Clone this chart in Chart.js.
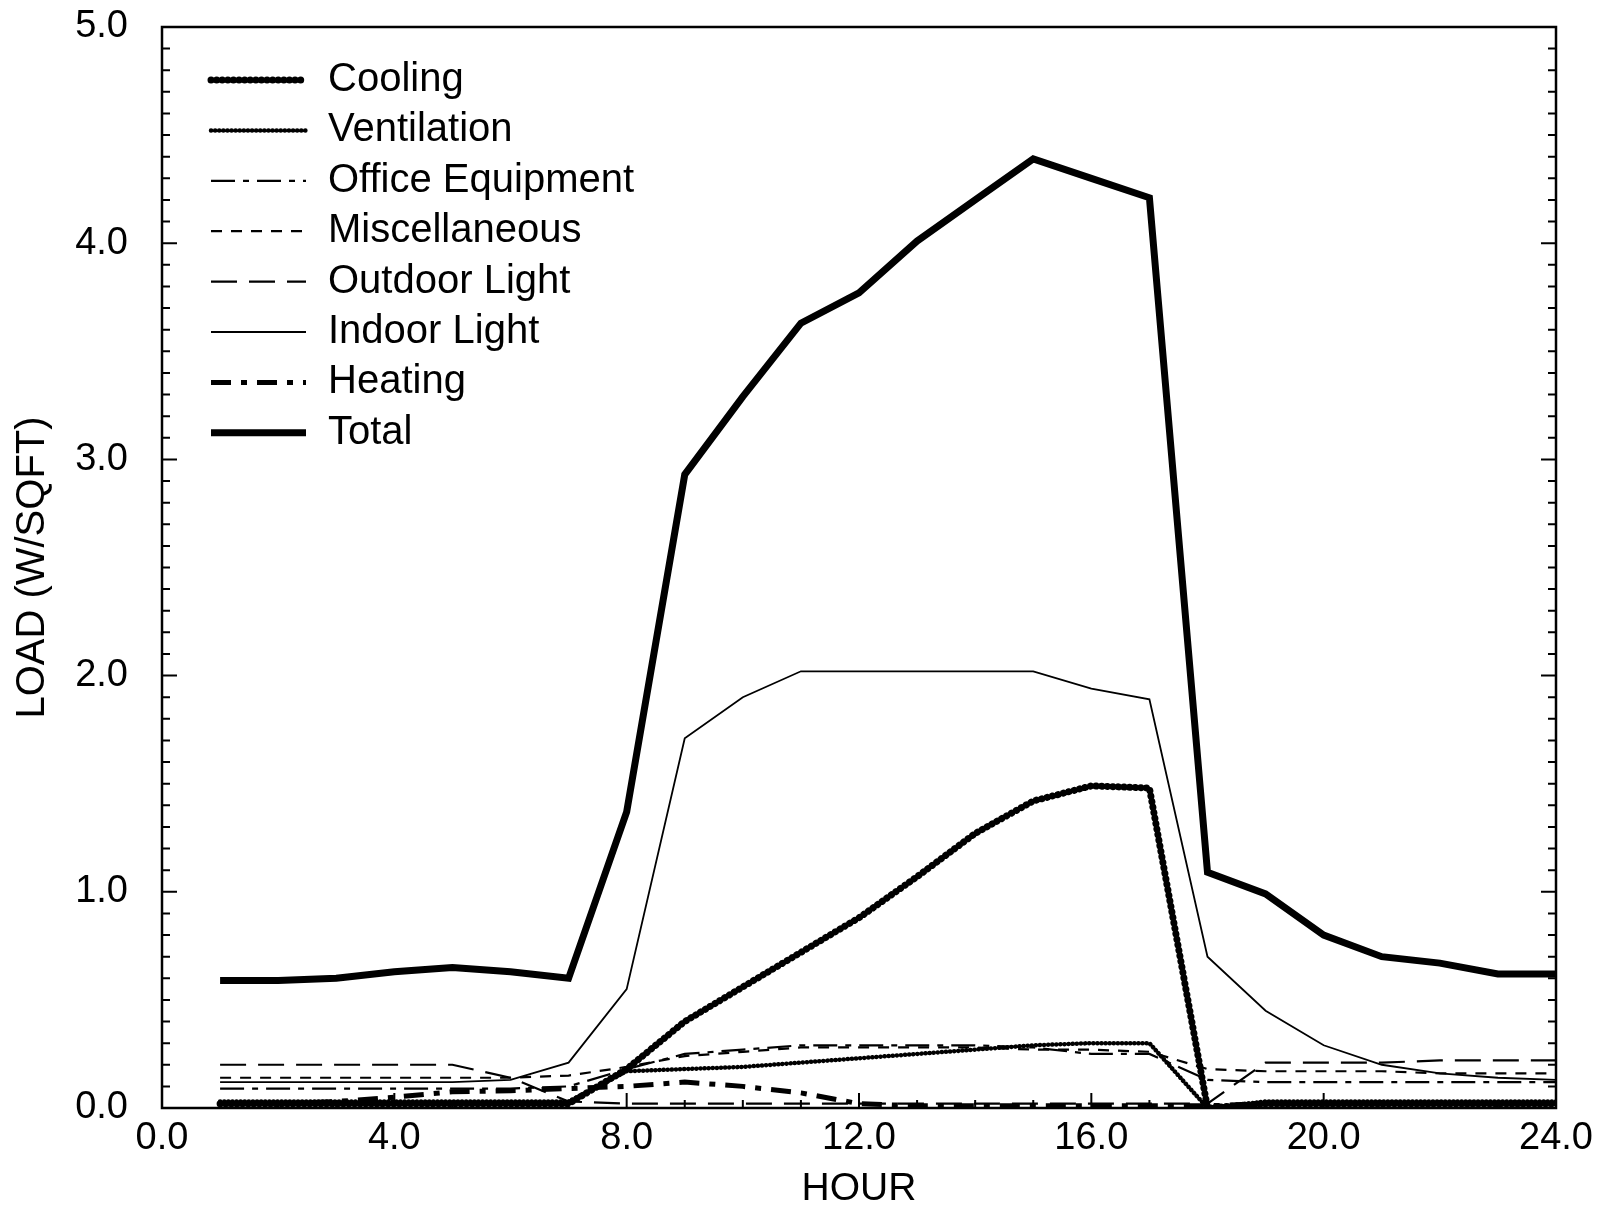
<!DOCTYPE html>
<html>
<head>
<meta charset="utf-8">
<script src="https://cdn.jsdelivr.net/npm/chart.js@4.4.0/dist/chart.umd.min.js"></script>
<style>
  html, body { margin: 0; padding: 0; background: #fff; }
  #wrap { width: 1610px; height: 1214px; }
</style>
</head>
<body>
<div id="wrap"><canvas id="loadChart" width="1610" height="1214"></canvas></div>
<script>
// Hourly loads, W/sqft
const hours = [1, 2, 3, 4, 5, 6, 7, 8, 9, 10, 11, 12, 13, 14, 15, 16, 17, 18, 19, 20, 21, 22, 23, 24];

const cooling     = [0.02, 0.02, 0.02, 0.02, 0.02, 0.02, 0.02, 0.18, 0.40, 0.56, 0.72, 0.88, 1.07, 1.27, 1.42, 1.49, 1.48, 0.00, 0.02, 0.02, 0.02, 0.02, 0.02, 0.02];
const ventilation = [0.03, 0.03, 0.03, 0.03, 0.03, 0.03, 0.03, 0.17, 0.18, 0.19, 0.21, 0.23, 0.25, 0.27, 0.29, 0.30, 0.30, 0.00, 0.03, 0.03, 0.03, 0.03, 0.03, 0.03];
const officeEquip = [0.09, 0.09, 0.09, 0.09, 0.09, 0.09, 0.10, 0.18, 0.25, 0.27, 0.29, 0.29, 0.29, 0.29, 0.28, 0.25, 0.25, 0.13, 0.12, 0.12, 0.12, 0.12, 0.12, 0.12];
const misc        = [0.14, 0.14, 0.14, 0.14, 0.14, 0.14, 0.15, 0.19, 0.24, 0.26, 0.28, 0.28, 0.28, 0.28, 0.27, 0.27, 0.26, 0.18, 0.17, 0.17, 0.17, 0.16, 0.16, 0.16];
const outdoorLight = [0.20, 0.20, 0.20, 0.20, 0.20, 0.14, 0.03, 0.02, 0.02, 0.02, 0.02, 0.02, 0.02, 0.02, 0.02, 0.02, 0.02, 0.02, 0.21, 0.21, 0.21, 0.22, 0.22, 0.22];
const indoorLight = [0.12, 0.12, 0.12, 0.12, 0.12, 0.13, 0.21, 0.55, 1.71, 1.90, 2.02, 2.02, 2.02, 2.02, 2.02, 1.94, 1.89, 0.70, 0.45, 0.29, 0.20, 0.16, 0.14, 0.13];
const heating     = [0.02, 0.02, 0.03, 0.05, 0.075, 0.08, 0.09, 0.10, 0.12, 0.10, 0.07, 0.02, 0.01, 0.01, 0.01, 0.01, 0.01, 0.01, 0.02, 0.02, 0.02, 0.02, 0.02, 0.02];
const total       = [0.59, 0.59, 0.60, 0.63, 0.65, 0.63, 0.60, 1.37, 2.93, 3.29, 3.63, 3.77, 4.01, 4.20, 4.39, 4.30, 4.21, 1.09, 0.99, 0.80, 0.70, 0.67, 0.62, 0.62];

const FONT = '"Liberation Sans", Arial, Helvetica, sans-serif';
Chart.defaults.font.family = FONT;
Chart.defaults.color = '#000';

function series(label, values, style) {
    return Object.assign({
        label: label,
        data: hours.map((h, i) => ({x: h, y: values[i]})),
        borderColor: '#000',
        backgroundColor: '#000',
        pointRadius: 0,
        tension: 0,
        fill: false
    }, style);
}

const datasets = [
    series('Cooling', cooling, {borderWidth: 7, borderDash: [0.1, 5.5], borderCapStyle: 'round', borderJoinStyle: 'round'}),
    series('Ventilation', ventilation, {borderWidth: 4.5, borderDash: [0.1, 4], borderCapStyle: 'round', borderJoinStyle: 'round'}),
    series('Office Equipment', officeEquip, {borderWidth: 2.2, borderDash: [24, 8, 6, 8]}),
    series('Miscellaneous', misc, {borderWidth: 2.2, borderDash: [11, 9]}),
    series('Outdoor Light', outdoorLight, {borderWidth: 2.2, borderDash: [26, 12]}),
    series('Indoor Light', indoorLight, {borderWidth: 1.8}),
    series('Heating', heating, {borderWidth: 5, borderDash: [20, 10, 6, 10]}),
    series('Total', total, {borderWidth: 7})
];

// frame + inward tick marks (bottom, left, right)
const frameTicks = {
    id: 'frameTicks',
    afterDraw(chart) {
        const {ctx, chartArea: {left, right, top, bottom}, scales: {x, y}} = chart;
        ctx.save();
        ctx.strokeStyle = '#000';
        ctx.lineWidth = 2.5;
        ctx.strokeRect(left, top, right - left, bottom - top);
        ctx.lineWidth = 2;
        ctx.beginPath();
        for (let h = 0; h <= 24; h++) {
            const px = x.getPixelForValue(h);
            const len = h % 4 === 0 ? 15 : 8;
            ctx.moveTo(px, bottom); ctx.lineTo(px, bottom - len);
        }
        for (let k = 0; k <= 50; k++) {
            const py = y.getPixelForValue(k / 10);
            const len = k % 10 === 0 ? 15 : 8;
            ctx.moveTo(left, py); ctx.lineTo(left + len, py);
            ctx.moveTo(right, py); ctx.lineTo(right - len, py);
        }
        ctx.stroke();
        ctx.restore();
    }
};

// legend drawn inside the plot, top-left
const innerLegend = {
    id: 'innerLegend',
    afterDraw(chart) {
        const ctx = chart.ctx;
        ctx.save();
        chart.data.datasets.forEach((ds, i) => {
            const yc = 80 + 50.4 * i;
            ctx.strokeStyle = '#000';
            ctx.lineWidth = ds.borderWidth;
            ctx.lineCap = ds.borderCapStyle || 'butt';
            ctx.setLineDash(ds.borderDash || []);
            ctx.beginPath();
            ctx.moveTo(211, yc);
            ctx.lineTo(306, yc);
            ctx.stroke();
            ctx.setLineDash([]);
            ctx.fillStyle = '#000';
            ctx.font = '40px ' + FONT;
            ctx.textBaseline = 'middle';
            ctx.textAlign = 'left';
            ctx.fillText(ds.label, 328, yc);
        });
        ctx.restore();
    }
};

const ctx = document.getElementById('loadChart').getContext('2d');
const loadChart = new Chart(ctx, {
    type: 'line',
    data: {datasets: datasets},
    options: {
        responsive: false,
        animation: false,
        devicePixelRatio: 1,
        layout: {padding: {top: 27, right: 54, left: 0, bottom: 0}},
        plugins: {
            legend: {display: false},
            tooltip: {enabled: false}
        },
        scales: {
            x: {
                type: 'linear',
                min: 0,
                max: 24,
                grid: {display: false, drawTicks: false},
                border: {display: false},
                ticks: {
                    stepSize: 4,
                    maxRotation: 0,
                    autoSkip: false,
                    padding: 8,
                    font: {size: 38},
                    callback: v => v.toFixed(1)
                },
                title: {display: true, text: 'HOUR', font: {size: 39, lineHeight: 1.2}, padding: {bottom: 1, top: 0}},
                afterFit: s => { s.height = 106; s.paddingLeft = 0; s.paddingRight = 0; }
            },
            y: {
                min: 0,
                max: 5,
                grid: {display: false, drawTicks: false},
                border: {display: false},
                ticks: {
                    stepSize: 1,
                    padding: 34,
                    font: {size: 38},
                    callback: v => v.toFixed(1)
                },
                title: {display: true, text: 'LOAD (W/SQFT)', font: {size: 40, lineHeight: 1.2}, padding: {top: 9, bottom: 0}},
                afterFit: s => { s.width = 162; s.paddingTop = 0; s.paddingBottom = 0; }
            }
        }
    },
    plugins: [frameTicks, innerLegend]
});
</script>
</body>
</html>
